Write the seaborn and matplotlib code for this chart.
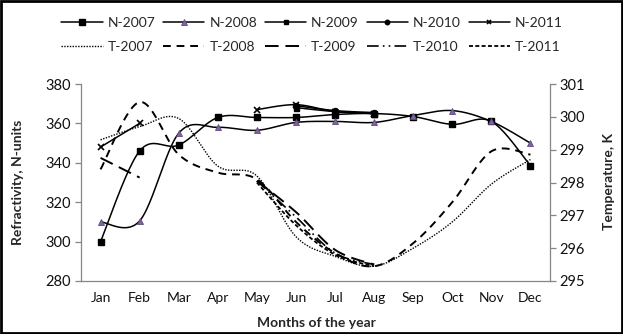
import numpy as np
import matplotlib
matplotlib.use('Agg')
import matplotlib.pyplot as plt
import seaborn as sns
from matplotlib.lines import Line2D
from matplotlib.patches import Rectangle

nan = np.nan

# Values
months = ['Jan', 'Feb', 'Mar', 'Apr', 'May', 'Jun', 'Jul', 'Aug', 'Sep', 'Oct', 'Nov', 'Dec']

n_2007 = [300, 346, 349, 363, 363, 363, 364.5, 365, 363.5, 359.5, 361, 338.5]
n_2008 = [310, 310.5, 355, 358, 356.5, 360.5, 361, 360.5, 364, 366.5, 361, 350]
n_2009 = [nan, nan, nan, nan, nan, 368, 366, 365, nan, nan, nan, nan]
n_2010 = [nan, nan, nan, nan, nan, 369, 366.5, 365.5, nan, nan, nan, nan]
n_2011 = [348, 360, nan, nan, 367, 369.5, 366, 365, nan, nan, nan, nan]

t_2007 = [299.3, 299.7, 299.95, 298.5, 298.2, 296.35, 295.75, 295.45, 296.0, 296.8, 297.95, 298.7]
t_2008 = [298.4, 300.45, 298.85, 298.3, 298.1, 296.8, 295.85, 295.45, 296.15, 297.4, 298.95, 298.85]
t_2009 = [298.75, 298.15, nan, nan, 298.05, 297.1, 295.95, 295.5, nan, nan, nan, nan]
t_2010 = [nan, nan, nan, nan, 298.05, 296.95, 295.85, 295.5, nan, nan, nan, nan]
t_2011 = [nan, nan, nan, nan, 298.0, 296.7, 295.8, 295.45, nan, nan, nan, nan]


def smooth_runs(vals, n=25):
    # Excel-style smoothed line: bezier through each contiguous run of points
    x = np.arange(len(vals), dtype=float)
    y = np.array(vals, dtype=float)
    ok = ~np.isnan(y)
    runs, cur = [], []
    for i in range(len(y)):
        if ok[i]:
            cur.append(i)
        elif cur:
            runs.append(cur)
            cur = []
    if cur:
        runs.append(cur)
    out = []
    for r in runs:
        P = np.column_stack([x[r], y[r]])
        if len(P) == 1:
            out.append(P)
            continue
        segs = []
        t = np.linspace(0, 1, n)[:, None]
        for i in range(len(P) - 1):
            p0 = P[i - 1] if i > 0 else P[i]
            p1, p2 = P[i], P[i + 1]
            p3 = P[i + 2] if i + 2 < len(P) else P[i + 1]
            c1 = p1 + (p2 - p0) / 6
            c2 = p2 - (p3 - p1) / 6
            b = ((1 - t) ** 3) * p1 + 3 * ((1 - t) ** 2) * t * c1 + 3 * (1 - t) * t ** 2 * c2 + t ** 3 * p2
            segs.append(b if i == 0 else b[1:])
        out.append(np.vstack(segs))
    return out


sns.set_style('white')
plt.rcParams['font.family'] = ['Lato', 'DejaVu Sans']

fig = plt.figure(figsize=(6.23, 3.34), dpi=100)
ax = fig.add_axes([81 / 623, 1 - 281 / 334, 469 / 623, 197 / 334])
ax2 = ax.twinx()

x = np.arange(len(months))
lw = 1.1
purple = '#8064A2'

n_series = [
    ('N-2007', n_2007, dict(marker='s', ms=5, mfc='black', mec='black')),
    ('N-2008', n_2008, dict(marker='^', ms=5, mfc=purple, mec='#5f4a80', mew=0.6)),
    ('N-2009', n_2009, dict(marker='s', ms=3.6, mfc='black', mec='black')),
    ('N-2010', n_2010, dict(marker='o', ms=4.3, mfc='black', mec='black')),
    ('N-2011', n_2011, dict(marker='x', ms=4.5, mec='black', mew=1.2)),
]
t_series = [
    ('T-2007', t_2007, (0, (1, 1)), 1.0),
    ('T-2008', t_2008, (0, (4, 3)), 1.4),
    ('T-2009', t_2009, (0, (7, 3.5)), 1.4),
    ('T-2010', t_2010, (0, (7, 2.5, 1, 2.5, 1, 2.5)), 1.2),
    ('T-2011', t_2011, (0, (2.2, 1.3)), 1.3),
]

for name, vals, ls, w in t_series:
    for seg in smooth_runs(vals):
        sns.lineplot(x=seg[:, 0], y=seg[:, 1], ax=ax2, color='black', lw=w,
                     linestyle=ls, sort=False, estimator=None)

for name, vals, mk in n_series:
    for seg in smooth_runs(vals):
        sns.lineplot(x=seg[:, 0], y=seg[:, 1], ax=ax, color='black', lw=lw,
                     sort=False, estimator=None)
    ax.plot(x, vals, linestyle='none', zorder=5, **mk)

ax.set_zorder(ax2.get_zorder() + 1)
ax.patch.set_visible(False)

ax.set_xlim(-0.5, 11.5)
ax.set_ylim(280, 380)
ax.set_yticks(np.arange(280, 381, 20))
ax2.set_ylim(295, 301)
ax2.set_yticks(np.arange(295, 302, 1))
ax.set_xticks(x)
ax.set_xticklabels(months)
ax.set_xticks(np.arange(-0.5, 12, 1), minor=True)
ax.tick_params(axis='x', which='major', length=0, pad=8, labelsize=10, colors='#111111')
ax.tick_params(axis='x', which='minor', length=4, width=0.9, color='#868686', direction='out')
ax.tick_params(axis='y', length=4, width=0.9, color='#868686', labelsize=10.5,
               labelcolor='#111111', direction='out', pad=3)
ax2.tick_params(axis='y', length=4, width=0.9, color='#868686', labelsize=10.5,
                labelcolor='#111111', direction='out', pad=3)
ax.set_xlabel('')
ax.set_ylabel('')
ax2.set_ylabel('')

for a in (ax, ax2):
    a.spines['top'].set_visible(False)
    for s in ('left', 'right', 'bottom'):
        a.spines[s].set_color('#868686')
        a.spines[s].set_linewidth(0.9)
ax.spines['right'].set_visible(False)
ax2.spines['left'].set_visible(False)
ax2.spines['bottom'].set_visible(False)

fig.text(18 / 623, 1 - 182 / 334, 'Refractivity, N-units', rotation=90, ha='center', va='center',
         fontsize=10, fontweight='bold')
fig.text(609 / 623, 1 - 182 / 334, 'Temperature, K', rotation=90, ha='center', va='center',
         fontsize=10, fontweight='bold')
fig.text(316 / 623, 1 - 323 / 334, 'Months of the year', ha='center', va='center',
         fontsize=10, fontweight='bold')

# legend: N series on the first row, T series on the second
handles, labels = [], []
for (nn, _, mk), (tn, _, ls, w) in zip(n_series, t_series):
    handles.append(Line2D([], [], color='black', lw=lw, **mk))
    labels.append(nn)
    handles.append(Line2D([], [], color='black', lw=w, linestyle=ls))
    labels.append(tn)
fig.legend(handles, labels, ncol=5, loc='center', bbox_to_anchor=(312 / 623, 1 - 35 / 334),
           frameon=False, fontsize=10, handlelength=3.0, handletextpad=0.35,
           columnspacing=0.55, labelspacing=0.85, markerscale=0.75)

fig.add_artist(Rectangle((0.002, 0.003), 0.996, 0.994, transform=fig.transFigure,
                         fill=False, edgecolor='black', lw=2))

fig.savefig('out.png', dpi=100)
